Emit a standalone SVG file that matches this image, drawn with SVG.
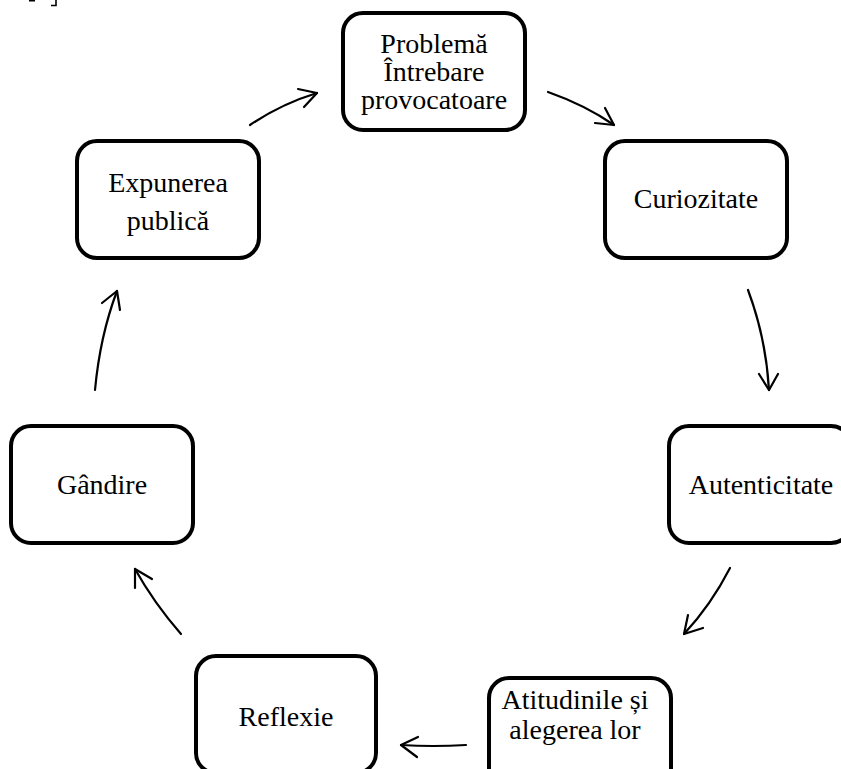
<svg xmlns="http://www.w3.org/2000/svg" width="841" height="769" viewBox="0 0 841 769">
  <style>
    .box { fill: #ffffff; stroke: #000000; stroke-width: 4; }
    .lbl { font-family: "Liberation Serif", "Times New Roman", serif; font-size: 28px; fill: #000000; text-anchor: middle; }
    .arc { fill: none; stroke: #000000; stroke-width: 2.2; stroke-linecap: round; stroke-linejoin: round; }
  </style>
  <rect width="841" height="769" fill="#ffffff"/>

  <!-- clipped remnant of a heading above the cycle -->
  <path d="M29 0.8 H35 M51 5.5 H56 V0" fill="none" stroke="#000" stroke-width="1.6"/>

  <g id="node-problema">
    <rect class="box" x="343" y="13" width="182" height="117" rx="20"/>
    <text class="lbl" x="434" y="53">Problemă</text>
    <text class="lbl" x="434" y="81">Întrebare</text>
    <text class="lbl" x="434" y="109">provocatoare</text>
  </g>

  <g id="node-curiozitate">
    <rect class="box" x="605" y="141" width="182" height="117" rx="20"/>
    <text class="lbl" x="696" y="208">Curiozitate</text>
  </g>

  <g id="node-autenticitate">
    <rect class="box" x="669" y="426" width="182" height="117" rx="20"/>
    <text class="lbl" x="761" y="494">Autenticitate</text>
  </g>

  <g id="node-atitudinile">
    <rect class="box" x="489" y="678" width="182" height="117" rx="20"/>
    <text class="lbl" x="575" y="709">Atitudinile și</text>
    <text class="lbl" x="575" y="739">alegerea lor</text>
  </g>

  <g id="node-reflexie">
    <rect class="box" x="196" y="656" width="180" height="117" rx="20"/>
    <text class="lbl" x="286" y="726">Reflexie</text>
  </g>

  <g id="node-gandire">
    <rect class="box" x="11" y="426" width="182" height="117" rx="20"/>
    <text class="lbl" x="102" y="494">Gândire</text>
  </g>

  <g id="node-expunerea">
    <rect class="box" x="77" y="141" width="182" height="117" rx="20"/>
    <text class="lbl" x="168" y="192">Expunerea</text>
    <text class="lbl" x="168" y="230">publică</text>
  </g>

  <g id="connectors">
    <!-- Expunerea publică -> Problemă -->
    <path class="arc" d="M250 125 Q281 104 317 93"/>
    <path class="arc" d="M298 89 L317 93 L304 107"/>
    <!-- Problemă -> Curiozitate -->
    <path class="arc" d="M548 92 Q585 105 614 125"/>
    <path class="arc" d="M605 108 L614 125 L595 123"/>
    <!-- Curiozitate -> Autenticitate -->
    <path class="arc" d="M748 290 Q766 338 769 390"/>
    <path class="arc" d="M759 374 L769 390 L778 374"/>
    <!-- Autenticitate -> Atitudinile și alegerea lor -->
    <path class="arc" d="M730 568 Q711 605 684 634"/>
    <path class="arc" d="M688 615 L684 634 L703 628"/>
    <!-- Atitudinile și alegerea lor -> Reflexie -->
    <path class="arc" d="M466 745 Q433 747 401 745"/>
    <path class="arc" d="M418 737 L401 745 L417 757"/>
    <!-- Reflexie -> Gândire -->
    <path class="arc" d="M181 634 Q154 603 135 569"/>
    <path class="arc" d="M152 579 L135 569 L135 588"/>
    <!-- Gândire -> Expunerea publică -->
    <path class="arc" d="M95 390 Q100 336 117 291"/>
    <path class="arc" d="M102 303 L117 291 L120 310"/>
  </g>
</svg>
